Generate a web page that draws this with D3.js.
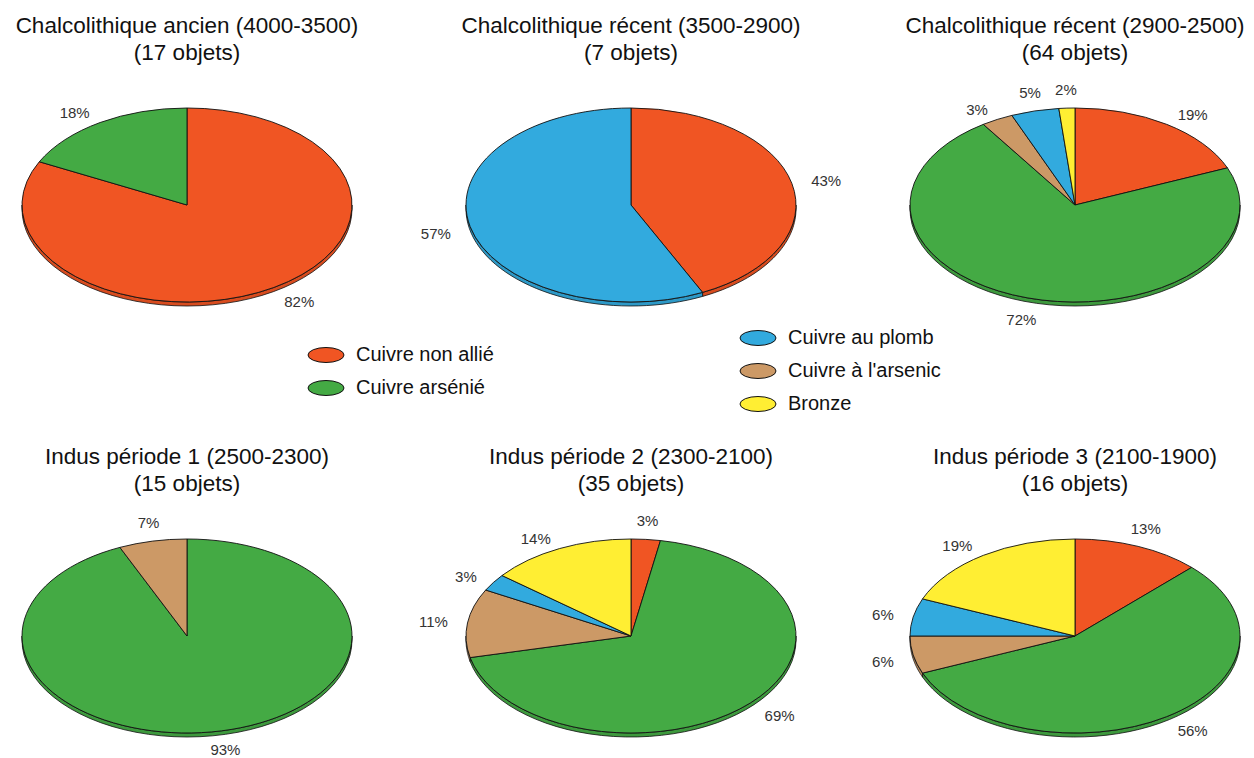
<!DOCTYPE html>
<html>
<head>
<meta charset="utf-8">
<script src="https://cdn.jsdelivr.net/npm/d3@7"></script>
<style>
    body { margin: 0; background: #fff; }
    svg { display: block; font-family: "Liberation Sans", Arial, sans-serif; }
</style>
</head>
<body>
<div id="chart"></div>
<script>
// categories, in the order slices are drawn (clockwise from 12 o'clock)
const categories = ["Cuivre non allié", "Cuivre arsénié", "Cuivre à l'arsenic", "Cuivre au plomb", "Bronze"];
const colors = ["#F05523", "#44AA44", "#CC9966", "#32AADE", "#FFEE33"];

const periods = [
    "Chalcolithique ancien (4000-3500)",
    "Chalcolithique récent (3500-2900)",
    "Chalcolithique récent (2900-2500)",
    "Indus période 1 (2500-2300)",
    "Indus période 2 (2300-2100)",
    "Indus période 3 (2100-1900)"
];

// number of objects per category, one value per period
const nonAllie  = [14, 3, 12, 0, 1, 2];
const arsenie   = [3, 0, 46, 14, 24, 9];
const arsenic   = [0, 0, 2, 1, 4, 1];
const plomb     = [0, 4, 3, 0, 1, 1];
const bronze    = [0, 0, 1, 0, 5, 3];

const legendLeft = ["Cuivre non allié", "Cuivre arsénié"];
const legendRight = ["Cuivre au plomb", "Cuivre à l'arsenic", "Bronze"];

const width = 1254, height = 758;
const rx = 165, ry = 97, depth = 4;
const colX = [187, 631, 1075];
const rowY = [205, 636];

const svg = d3.select("#chart").append("svg")
    .attr("width", width)
    .attr("height", height);

const color = d3.scaleOrdinal().domain(categories).range(colors);

const pie = d3.pie()
    .value(d => d.value)
    .sort(null);

function ex(cx, a) { return cx + rx * Math.sin(a); }
function ey(cy, a) { return cy - ry * Math.cos(a); }

periods.forEach(function(title, i) {
    const cx = colX[i % 3];
    const cy = rowY[Math.floor(i / 3)];
    const values = [nonAllie[i], arsenie[i], arsenic[i], plomb[i], bronze[i]];
    const data = categories.map((c, j) => ({name: c, value: values[j]})).filter(d => d.value > 0);
    const total = d3.sum(data, d => d.value);
    const arcs = pie(data);

    const g = svg.append("g");

    g.append("text")
        .attr("x", cx)
        .attr("y", cy - 172)
        .attr("text-anchor", "middle")
        .style("font-size", "22.5px")
        .style("fill", "#111")
        .text(title);
    g.append("text")
        .attr("x", cx)
        .attr("y", cy - 145)
        .attr("text-anchor", "middle")
        .style("font-size", "22.5px")
        .style("fill", "#111")
        .text(`(${total} objets)`);

    // side wall of the front half
    arcs.forEach(function(d) {
        const a0 = Math.max(d.startAngle, Math.PI / 2);
        const a1 = Math.min(d.endAngle, 3 * Math.PI / 2);
        if (a1 <= a0) return;
        const steps = d3.range(0, 41).map(k => a0 + (a1 - a0) * k / 40);
        const top = steps.map(a => [ex(cx, a), ey(cy, a)]);
        const bottom = steps.slice().reverse().map(a => [ex(cx, a), ey(cy, a) + depth]);
        g.append("path")
            .attr("d", d3.line()(top.concat(bottom)) + "Z")
            .attr("fill", d3.color(color(d.data.name)).darker(0.3))
            .attr("stroke", "#111")
            .attr("stroke-width", 0.8);
    });

    // top face: circle arcs squashed into an ellipse
    const arc = d3.arc().innerRadius(0).outerRadius(rx);
    g.append("g")
        .attr("transform", `translate(${cx},${cy}) scale(1,${ry / rx})`)
        .selectAll("path")
        .data(arcs)
        .enter().append("path")
        .attr("d", arc)
        .attr("fill", d => color(d.data.name))
        .attr("stroke", "#111")
        .attr("stroke-width", 0.9)
        .attr("vector-effect", "non-scaling-stroke");

    // percentage labels outside the pie
    const k = 1.12;
    arcs.forEach(function(d) {
        const mid = (d.startAngle + d.endAngle) / 2;
        const s = Math.sin(mid), c = Math.cos(mid);
        const px = cx + rx * k * s;
        let py = cy - ry * k * c + (c < 0 ? depth : 0);
        let anchor;
        if (Math.abs(s) < 0.4) {
            anchor = "middle";
            py += c > 0 ? -7 : 7;
        } else {
            anchor = s > 0 ? "start" : "end";
        }
        g.append("text")
            .attr("x", px)
            .attr("y", Math.min(py, height - 9))
            .attr("text-anchor", anchor)
            .attr("dominant-baseline", "central")
            .style("font-size", "15px")
            .style("fill", "#333")
            .text(Math.round(d.data.value / total * 100) + "%");
    });
});

// legend
function drawLegend(items, x, y0) {
    const item = svg.append("g").selectAll("g")
        .data(items)
        .enter().append("g")
        .attr("transform", (d, i) => `translate(${x},${y0 + i * 33})`);
    item.append("ellipse")
        .attr("rx", 18)
        .attr("ry", 7.5)
        .attr("fill", d => color(d))
        .attr("stroke", "#111")
        .attr("stroke-width", 1);
    item.append("text")
        .attr("x", 30)
        .attr("y", 6)
        .style("font-size", "20px")
        .style("fill", "#111")
        .text(d => d);
}

drawLegend(legendLeft, 326, 355);
drawLegend(legendRight, 758, 338);
</script>
</body>
</html>
